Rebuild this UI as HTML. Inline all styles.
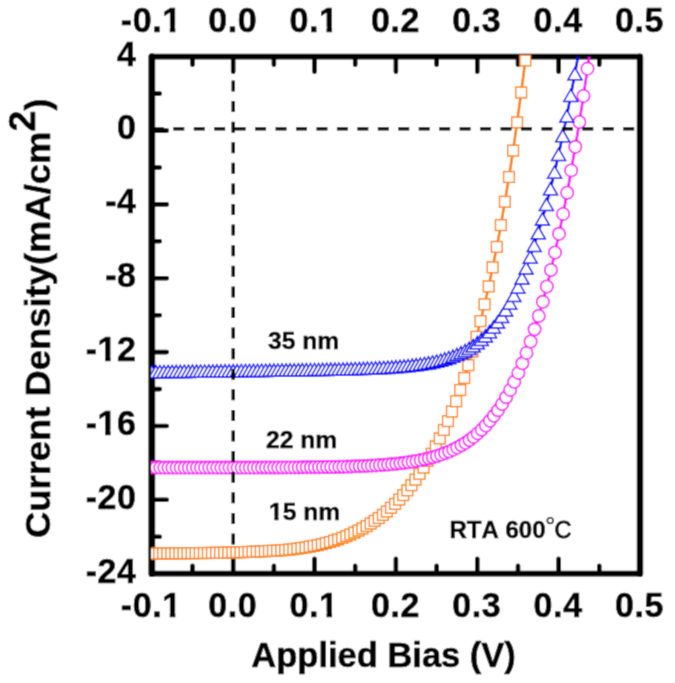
<!DOCTYPE html>
<html><head><meta charset="utf-8"><style>
html,body{margin:0;padding:0;background:#fff;width:675px;height:683px;overflow:hidden}
body{position:relative;font-family:"Liberation Sans",sans-serif}
</style></head><body>
<div style="position:absolute;left:0;top:0;width:675px;height:683px">
<svg width="675" height="683" viewBox="0 0 675 683" style="display:block">
<defs><filter id="bl" x="0" y="0" width="1" height="1"><feConvolveMatrix order="3" kernelMatrix="0.02768 0.11101 0.02768 0.11101 0.44521 0.11101 0.02768 0.11101 0.02768" edgeMode="duplicate"/></filter></defs><g filter="url(#bl)"><rect width="675" height="683" fill="#fff"/>
<defs><clipPath id="c"><rect x="151.3" y="48.7" width="488.2" height="525.0"/></clipPath><clipPath id="cl"><rect x="151.8" y="56.7" width="488.2" height="517.0"/></clipPath></defs>
<path d="M151.8 573.7v-15.0 M151.8 56.7v15.0 M192.5 573.7v-8.0 M192.5 56.7v8.0 M233.2 573.7v-15.0 M233.2 56.7v15.0 M273.9 573.7v-8.0 M273.9 56.7v8.0 M314.5 573.7v-15.0 M314.5 56.7v15.0 M355.2 573.7v-8.0 M355.2 56.7v8.0 M395.9 573.7v-15.0 M395.9 56.7v15.0 M436.6 573.7v-8.0 M436.6 56.7v8.0 M477.3 573.7v-15.0 M477.3 56.7v15.0 M518.0 573.7v-8.0 M518.0 56.7v8.0 M558.6 573.7v-15.0 M558.6 56.7v15.0 M599.3 573.7v-8.0 M599.3 56.7v8.0 M640.0 573.7v-15.0 M640.0 56.7v15.0 M151.8 56.7h15.0 M151.8 93.6h8.0 M151.8 130.6h15.0 M151.8 167.5h8.0 M151.8 204.4h15.0 M151.8 241.3h8.0 M151.8 278.3h15.0 M151.8 315.2h8.0 M151.8 352.1h15.0 M151.8 389.1h8.0 M151.8 426.0h15.0 M151.8 462.9h8.0 M151.8 499.8h15.0 M151.8 536.8h8.0 M151.8 573.7h15.0" stroke="#000" stroke-width="4.6" stroke-linecap="round" fill="none"/>
<path d="M151.8 56.7H640.0" stroke="#000" stroke-width="5.8" stroke-linecap="round"/>
<path d="M151.8 573.7H640.0" stroke="#000" stroke-width="5.8" stroke-linecap="round"/>
<path d="M151.8 56.7V573.7" stroke="#000" stroke-width="6.8" stroke-linecap="round"/>
<path d="M640.0 56.7V573.7" stroke="#000" stroke-width="6.4" stroke-linecap="round"/>
<g clip-path="url(#c)"><path d="M151.0 553.6 L155.1 553.6 L159.1 553.5 L163.2 553.5 L167.3 553.4 L171.3 553.4 L175.4 553.3 L179.5 553.3 L183.5 553.3 L187.6 553.2 L191.7 553.2 L195.7 553.1 L199.8 553.1 L203.9 553.0 L207.9 553.0 L212.0 552.9 L216.1 552.9 L220.1 552.8 L224.2 552.7 L228.3 552.6 L232.4 552.5 L236.4 552.4 L240.5 552.2 L244.6 552.1 L248.6 551.9 L252.7 551.7 L256.8 551.5 L260.8 551.4 L264.9 551.2 L269.0 551.0 L273.0 550.8 L277.1 550.6 L281.2 550.3 L285.2 550.0 L289.3 549.6 L293.4 549.2 L297.4 548.6 L301.5 548.0 L305.6 547.4 L309.7 546.7 L313.7 545.9 L317.8 545.1 L321.9 544.1 L325.9 543.1 L330.0 542.0 L334.1 540.7 L338.1 539.4 L342.2 537.8 L346.3 536.2 L350.3 534.5 L354.4 532.6 L358.5 530.6 L362.5 528.4 L366.6 526.1 L370.7 523.5 L374.7 520.9 L378.8 518.0 L382.9 514.9 L386.9 511.5 L391.0 507.8 L395.1 503.9 L399.2 499.6 L403.2 495.1 L407.3 490.3 L411.4 485.2 L415.4 479.7 L419.5 473.9 L423.6 467.6 L427.6 460.9 L431.7 453.8 L435.8 446.3 L439.8 438.4 L443.9 430.0 L448.0 421.1 L452.0 411.5 L456.1 401.2 L460.2 390.0 L464.2 378.0 L468.3 365.2 L472.4 351.5 L476.5 336.8 L480.5 321.1 L484.6 304.3 L488.7 286.4 L492.7 267.3 L496.8 246.9 L500.9 225.1 L504.9 201.8 L509.0 177.0 L513.1 150.6 L517.1 122.4 L521.2 92.5 L525.3 60.5 L529.3 26.6" stroke="#FF8000" stroke-width="2.6" fill="none" clip-path="url(#cl)"/><rect x="145.6" y="548.2" width="10.8" height="10.8" fill="#fff" stroke="#FF8000" stroke-width="1.4"/><rect x="149.7" y="548.2" width="10.8" height="10.8" fill="#fff" stroke="#FF8000" stroke-width="1.4"/><rect x="153.7" y="548.1" width="10.8" height="10.8" fill="#fff" stroke="#FF8000" stroke-width="1.4"/><rect x="157.8" y="548.1" width="10.8" height="10.8" fill="#fff" stroke="#FF8000" stroke-width="1.4"/><rect x="161.9" y="548.0" width="10.8" height="10.8" fill="#fff" stroke="#FF8000" stroke-width="1.4"/><rect x="165.9" y="548.0" width="10.8" height="10.8" fill="#fff" stroke="#FF8000" stroke-width="1.4"/><rect x="170.0" y="547.9" width="10.8" height="10.8" fill="#fff" stroke="#FF8000" stroke-width="1.4"/><rect x="174.1" y="547.9" width="10.8" height="10.8" fill="#fff" stroke="#FF8000" stroke-width="1.4"/><rect x="178.1" y="547.9" width="10.8" height="10.8" fill="#fff" stroke="#FF8000" stroke-width="1.4"/><rect x="182.2" y="547.8" width="10.8" height="10.8" fill="#fff" stroke="#FF8000" stroke-width="1.4"/><rect x="186.3" y="547.8" width="10.8" height="10.8" fill="#fff" stroke="#FF8000" stroke-width="1.4"/><rect x="190.3" y="547.7" width="10.8" height="10.8" fill="#fff" stroke="#FF8000" stroke-width="1.4"/><rect x="194.4" y="547.7" width="10.8" height="10.8" fill="#fff" stroke="#FF8000" stroke-width="1.4"/><rect x="198.5" y="547.6" width="10.8" height="10.8" fill="#fff" stroke="#FF8000" stroke-width="1.4"/><rect x="202.5" y="547.6" width="10.8" height="10.8" fill="#fff" stroke="#FF8000" stroke-width="1.4"/><rect x="206.6" y="547.5" width="10.8" height="10.8" fill="#fff" stroke="#FF8000" stroke-width="1.4"/><rect x="210.7" y="547.5" width="10.8" height="10.8" fill="#fff" stroke="#FF8000" stroke-width="1.4"/><rect x="214.7" y="547.4" width="10.8" height="10.8" fill="#fff" stroke="#FF8000" stroke-width="1.4"/><rect x="218.8" y="547.3" width="10.8" height="10.8" fill="#fff" stroke="#FF8000" stroke-width="1.4"/><rect x="222.9" y="547.2" width="10.8" height="10.8" fill="#fff" stroke="#FF8000" stroke-width="1.4"/><rect x="227.0" y="547.1" width="10.8" height="10.8" fill="#fff" stroke="#FF8000" stroke-width="1.4"/><rect x="231.0" y="547.0" width="10.8" height="10.8" fill="#fff" stroke="#FF8000" stroke-width="1.4"/><rect x="235.1" y="546.8" width="10.8" height="10.8" fill="#fff" stroke="#FF8000" stroke-width="1.4"/><rect x="239.2" y="546.7" width="10.8" height="10.8" fill="#fff" stroke="#FF8000" stroke-width="1.4"/><rect x="243.2" y="546.5" width="10.8" height="10.8" fill="#fff" stroke="#FF8000" stroke-width="1.4"/><rect x="247.3" y="546.3" width="10.8" height="10.8" fill="#fff" stroke="#FF8000" stroke-width="1.4"/><rect x="251.4" y="546.1" width="10.8" height="10.8" fill="#fff" stroke="#FF8000" stroke-width="1.4"/><rect x="255.4" y="546.0" width="10.8" height="10.8" fill="#fff" stroke="#FF8000" stroke-width="1.4"/><rect x="259.5" y="545.8" width="10.8" height="10.8" fill="#fff" stroke="#FF8000" stroke-width="1.4"/><rect x="263.6" y="545.6" width="10.8" height="10.8" fill="#fff" stroke="#FF8000" stroke-width="1.4"/><rect x="267.6" y="545.4" width="10.8" height="10.8" fill="#fff" stroke="#FF8000" stroke-width="1.4"/><rect x="271.7" y="545.2" width="10.8" height="10.8" fill="#fff" stroke="#FF8000" stroke-width="1.4"/><rect x="275.8" y="544.9" width="10.8" height="10.8" fill="#fff" stroke="#FF8000" stroke-width="1.4"/><rect x="279.8" y="544.6" width="10.8" height="10.8" fill="#fff" stroke="#FF8000" stroke-width="1.4"/><rect x="283.9" y="544.2" width="10.8" height="10.8" fill="#fff" stroke="#FF8000" stroke-width="1.4"/><rect x="288.0" y="543.8" width="10.8" height="10.8" fill="#fff" stroke="#FF8000" stroke-width="1.4"/><rect x="292.0" y="543.2" width="10.8" height="10.8" fill="#fff" stroke="#FF8000" stroke-width="1.4"/><rect x="296.1" y="542.6" width="10.8" height="10.8" fill="#fff" stroke="#FF8000" stroke-width="1.4"/><rect x="300.2" y="542.0" width="10.8" height="10.8" fill="#fff" stroke="#FF8000" stroke-width="1.4"/><rect x="304.3" y="541.3" width="10.8" height="10.8" fill="#fff" stroke="#FF8000" stroke-width="1.4"/><rect x="308.3" y="540.5" width="10.8" height="10.8" fill="#fff" stroke="#FF8000" stroke-width="1.4"/><rect x="312.4" y="539.7" width="10.8" height="10.8" fill="#fff" stroke="#FF8000" stroke-width="1.4"/><rect x="316.5" y="538.7" width="10.8" height="10.8" fill="#fff" stroke="#FF8000" stroke-width="1.4"/><rect x="320.5" y="537.7" width="10.8" height="10.8" fill="#fff" stroke="#FF8000" stroke-width="1.4"/><rect x="324.6" y="536.6" width="10.8" height="10.8" fill="#fff" stroke="#FF8000" stroke-width="1.4"/><rect x="328.7" y="535.3" width="10.8" height="10.8" fill="#fff" stroke="#FF8000" stroke-width="1.4"/><rect x="332.7" y="534.0" width="10.8" height="10.8" fill="#fff" stroke="#FF8000" stroke-width="1.4"/><rect x="336.8" y="532.4" width="10.8" height="10.8" fill="#fff" stroke="#FF8000" stroke-width="1.4"/><rect x="340.9" y="530.8" width="10.8" height="10.8" fill="#fff" stroke="#FF8000" stroke-width="1.4"/><rect x="344.9" y="529.1" width="10.8" height="10.8" fill="#fff" stroke="#FF8000" stroke-width="1.4"/><rect x="349.0" y="527.2" width="10.8" height="10.8" fill="#fff" stroke="#FF8000" stroke-width="1.4"/><rect x="353.1" y="525.2" width="10.8" height="10.8" fill="#fff" stroke="#FF8000" stroke-width="1.4"/><rect x="357.1" y="523.0" width="10.8" height="10.8" fill="#fff" stroke="#FF8000" stroke-width="1.4"/><rect x="361.2" y="520.7" width="10.8" height="10.8" fill="#fff" stroke="#FF8000" stroke-width="1.4"/><rect x="365.3" y="518.1" width="10.8" height="10.8" fill="#fff" stroke="#FF8000" stroke-width="1.4"/><rect x="369.3" y="515.5" width="10.8" height="10.8" fill="#fff" stroke="#FF8000" stroke-width="1.4"/><rect x="373.4" y="512.6" width="10.8" height="10.8" fill="#fff" stroke="#FF8000" stroke-width="1.4"/><rect x="377.5" y="509.5" width="10.8" height="10.8" fill="#fff" stroke="#FF8000" stroke-width="1.4"/><rect x="381.5" y="506.1" width="10.8" height="10.8" fill="#fff" stroke="#FF8000" stroke-width="1.4"/><rect x="385.6" y="502.4" width="10.8" height="10.8" fill="#fff" stroke="#FF8000" stroke-width="1.4"/><rect x="389.7" y="498.5" width="10.8" height="10.8" fill="#fff" stroke="#FF8000" stroke-width="1.4"/><rect x="393.8" y="494.2" width="10.8" height="10.8" fill="#fff" stroke="#FF8000" stroke-width="1.4"/><rect x="397.8" y="489.7" width="10.8" height="10.8" fill="#fff" stroke="#FF8000" stroke-width="1.4"/><rect x="401.9" y="484.9" width="10.8" height="10.8" fill="#fff" stroke="#FF8000" stroke-width="1.4"/><rect x="406.0" y="479.8" width="10.8" height="10.8" fill="#fff" stroke="#FF8000" stroke-width="1.4"/><rect x="410.0" y="474.3" width="10.8" height="10.8" fill="#fff" stroke="#FF8000" stroke-width="1.4"/><rect x="414.1" y="468.5" width="10.8" height="10.8" fill="#fff" stroke="#FF8000" stroke-width="1.4"/><rect x="418.2" y="462.2" width="10.8" height="10.8" fill="#fff" stroke="#FF8000" stroke-width="1.4"/><rect x="422.2" y="455.5" width="10.8" height="10.8" fill="#fff" stroke="#FF8000" stroke-width="1.4"/><rect x="426.3" y="448.4" width="10.8" height="10.8" fill="#fff" stroke="#FF8000" stroke-width="1.4"/><rect x="430.4" y="440.9" width="10.8" height="10.8" fill="#fff" stroke="#FF8000" stroke-width="1.4"/><rect x="434.4" y="433.0" width="10.8" height="10.8" fill="#fff" stroke="#FF8000" stroke-width="1.4"/><rect x="438.5" y="424.6" width="10.8" height="10.8" fill="#fff" stroke="#FF8000" stroke-width="1.4"/><rect x="442.6" y="415.7" width="10.8" height="10.8" fill="#fff" stroke="#FF8000" stroke-width="1.4"/><rect x="446.6" y="406.1" width="10.8" height="10.8" fill="#fff" stroke="#FF8000" stroke-width="1.4"/><rect x="450.7" y="395.8" width="10.8" height="10.8" fill="#fff" stroke="#FF8000" stroke-width="1.4"/><rect x="454.8" y="384.6" width="10.8" height="10.8" fill="#fff" stroke="#FF8000" stroke-width="1.4"/><rect x="458.8" y="372.6" width="10.8" height="10.8" fill="#fff" stroke="#FF8000" stroke-width="1.4"/><rect x="462.9" y="359.8" width="10.8" height="10.8" fill="#fff" stroke="#FF8000" stroke-width="1.4"/><rect x="467.0" y="346.1" width="10.8" height="10.8" fill="#fff" stroke="#FF8000" stroke-width="1.4"/><rect x="471.1" y="331.4" width="10.8" height="10.8" fill="#fff" stroke="#FF8000" stroke-width="1.4"/><rect x="475.1" y="315.7" width="10.8" height="10.8" fill="#fff" stroke="#FF8000" stroke-width="1.4"/><rect x="479.2" y="298.9" width="10.8" height="10.8" fill="#fff" stroke="#FF8000" stroke-width="1.4"/><rect x="483.3" y="281.0" width="10.8" height="10.8" fill="#fff" stroke="#FF8000" stroke-width="1.4"/><rect x="487.3" y="261.9" width="10.8" height="10.8" fill="#fff" stroke="#FF8000" stroke-width="1.4"/><rect x="491.4" y="241.5" width="10.8" height="10.8" fill="#fff" stroke="#FF8000" stroke-width="1.4"/><rect x="495.5" y="219.7" width="10.8" height="10.8" fill="#fff" stroke="#FF8000" stroke-width="1.4"/><rect x="499.5" y="196.4" width="10.8" height="10.8" fill="#fff" stroke="#FF8000" stroke-width="1.4"/><rect x="503.6" y="171.6" width="10.8" height="10.8" fill="#fff" stroke="#FF8000" stroke-width="1.4"/><rect x="507.7" y="145.2" width="10.8" height="10.8" fill="#fff" stroke="#FF8000" stroke-width="1.4"/><rect x="511.7" y="117.0" width="10.8" height="10.8" fill="#fff" stroke="#FF8000" stroke-width="1.4"/><rect x="515.8" y="87.1" width="10.8" height="10.8" fill="#fff" stroke="#FF8000" stroke-width="1.4"/><rect x="519.9" y="55.1" width="10.8" height="10.8" fill="#fff" stroke="#FF8000" stroke-width="1.4"/></g>
<g clip-path="url(#c)"><path d="M152.2 467.6 L156.3 467.6 L160.3 467.6 L164.4 467.6 L168.5 467.6 L172.5 467.6 L176.6 467.6 L180.7 467.6 L184.8 467.6 L188.8 467.6 L192.9 467.6 L197.0 467.6 L201.0 467.6 L205.1 467.6 L209.2 467.6 L213.2 467.6 L217.3 467.6 L221.4 467.6 L225.4 467.6 L229.5 467.6 L233.6 467.6 L237.6 467.6 L241.7 467.6 L245.8 467.6 L249.8 467.6 L253.9 467.6 L258.0 467.6 L262.1 467.5 L266.1 467.5 L270.2 467.5 L274.3 467.5 L278.3 467.5 L282.4 467.5 L286.5 467.4 L290.5 467.4 L294.6 467.4 L298.7 467.4 L302.7 467.3 L306.8 467.3 L310.9 467.3 L314.9 467.2 L319.0 467.2 L323.1 467.1 L327.1 467.0 L331.2 467.0 L335.3 466.9 L339.4 466.8 L343.4 466.7 L347.5 466.6 L351.6 466.5 L355.6 466.3 L359.7 466.2 L363.8 466.0 L367.8 465.8 L371.9 465.6 L376.0 465.4 L380.0 465.1 L384.1 464.8 L388.2 464.5 L392.2 464.1 L396.3 463.7 L400.4 463.3 L404.4 462.8 L408.5 462.2 L412.6 461.6 L416.6 460.9 L420.7 460.1 L424.8 459.2 L428.9 458.2 L432.9 457.2 L437.0 456.0 L441.1 454.6 L445.1 453.1 L449.2 451.5 L453.3 449.6 L457.3 447.6 L461.4 445.3 L465.5 442.8 L469.5 440.0 L473.6 436.9 L477.7 433.4 L481.7 429.7 L485.8 425.5 L489.9 420.8 L493.9 415.8 L498.0 410.2 L502.1 404.0 L506.2 397.2 L510.2 389.9 L514.3 381.8 L518.4 372.9 L522.4 363.3 L526.5 352.9 L530.6 341.5 L534.6 329.3 L538.7 316.0 L542.8 301.8 L546.8 286.5 L550.9 270.0 L555.0 252.5 L559.0 233.8 L563.1 213.9 L567.2 192.7 L571.2 170.4 L575.3 146.8 L579.4 122.0 L583.5 95.9 L587.5 68.6 L591.6 40.1" stroke="#FF00FF" stroke-width="2.6" fill="none" clip-path="url(#cl)"/><circle cx="152.2" cy="467.6" r="6.2" fill="#fff" stroke="#FF00FF" stroke-width="1.6"/><circle cx="156.3" cy="467.6" r="6.2" fill="#fff" stroke="#FF00FF" stroke-width="1.6"/><circle cx="160.3" cy="467.6" r="6.2" fill="#fff" stroke="#FF00FF" stroke-width="1.6"/><circle cx="164.4" cy="467.6" r="6.2" fill="#fff" stroke="#FF00FF" stroke-width="1.6"/><circle cx="168.5" cy="467.6" r="6.2" fill="#fff" stroke="#FF00FF" stroke-width="1.6"/><circle cx="172.5" cy="467.6" r="6.2" fill="#fff" stroke="#FF00FF" stroke-width="1.6"/><circle cx="176.6" cy="467.6" r="6.2" fill="#fff" stroke="#FF00FF" stroke-width="1.6"/><circle cx="180.7" cy="467.6" r="6.2" fill="#fff" stroke="#FF00FF" stroke-width="1.6"/><circle cx="184.8" cy="467.6" r="6.2" fill="#fff" stroke="#FF00FF" stroke-width="1.6"/><circle cx="188.8" cy="467.6" r="6.2" fill="#fff" stroke="#FF00FF" stroke-width="1.6"/><circle cx="192.9" cy="467.6" r="6.2" fill="#fff" stroke="#FF00FF" stroke-width="1.6"/><circle cx="197.0" cy="467.6" r="6.2" fill="#fff" stroke="#FF00FF" stroke-width="1.6"/><circle cx="201.0" cy="467.6" r="6.2" fill="#fff" stroke="#FF00FF" stroke-width="1.6"/><circle cx="205.1" cy="467.6" r="6.2" fill="#fff" stroke="#FF00FF" stroke-width="1.6"/><circle cx="209.2" cy="467.6" r="6.2" fill="#fff" stroke="#FF00FF" stroke-width="1.6"/><circle cx="213.2" cy="467.6" r="6.2" fill="#fff" stroke="#FF00FF" stroke-width="1.6"/><circle cx="217.3" cy="467.6" r="6.2" fill="#fff" stroke="#FF00FF" stroke-width="1.6"/><circle cx="221.4" cy="467.6" r="6.2" fill="#fff" stroke="#FF00FF" stroke-width="1.6"/><circle cx="225.4" cy="467.6" r="6.2" fill="#fff" stroke="#FF00FF" stroke-width="1.6"/><circle cx="229.5" cy="467.6" r="6.2" fill="#fff" stroke="#FF00FF" stroke-width="1.6"/><circle cx="233.6" cy="467.6" r="6.2" fill="#fff" stroke="#FF00FF" stroke-width="1.6"/><circle cx="237.6" cy="467.6" r="6.2" fill="#fff" stroke="#FF00FF" stroke-width="1.6"/><circle cx="241.7" cy="467.6" r="6.2" fill="#fff" stroke="#FF00FF" stroke-width="1.6"/><circle cx="245.8" cy="467.6" r="6.2" fill="#fff" stroke="#FF00FF" stroke-width="1.6"/><circle cx="249.8" cy="467.6" r="6.2" fill="#fff" stroke="#FF00FF" stroke-width="1.6"/><circle cx="253.9" cy="467.6" r="6.2" fill="#fff" stroke="#FF00FF" stroke-width="1.6"/><circle cx="258.0" cy="467.6" r="6.2" fill="#fff" stroke="#FF00FF" stroke-width="1.6"/><circle cx="262.1" cy="467.5" r="6.2" fill="#fff" stroke="#FF00FF" stroke-width="1.6"/><circle cx="266.1" cy="467.5" r="6.2" fill="#fff" stroke="#FF00FF" stroke-width="1.6"/><circle cx="270.2" cy="467.5" r="6.2" fill="#fff" stroke="#FF00FF" stroke-width="1.6"/><circle cx="274.3" cy="467.5" r="6.2" fill="#fff" stroke="#FF00FF" stroke-width="1.6"/><circle cx="278.3" cy="467.5" r="6.2" fill="#fff" stroke="#FF00FF" stroke-width="1.6"/><circle cx="282.4" cy="467.5" r="6.2" fill="#fff" stroke="#FF00FF" stroke-width="1.6"/><circle cx="286.5" cy="467.4" r="6.2" fill="#fff" stroke="#FF00FF" stroke-width="1.6"/><circle cx="290.5" cy="467.4" r="6.2" fill="#fff" stroke="#FF00FF" stroke-width="1.6"/><circle cx="294.6" cy="467.4" r="6.2" fill="#fff" stroke="#FF00FF" stroke-width="1.6"/><circle cx="298.7" cy="467.4" r="6.2" fill="#fff" stroke="#FF00FF" stroke-width="1.6"/><circle cx="302.7" cy="467.3" r="6.2" fill="#fff" stroke="#FF00FF" stroke-width="1.6"/><circle cx="306.8" cy="467.3" r="6.2" fill="#fff" stroke="#FF00FF" stroke-width="1.6"/><circle cx="310.9" cy="467.3" r="6.2" fill="#fff" stroke="#FF00FF" stroke-width="1.6"/><circle cx="314.9" cy="467.2" r="6.2" fill="#fff" stroke="#FF00FF" stroke-width="1.6"/><circle cx="319.0" cy="467.2" r="6.2" fill="#fff" stroke="#FF00FF" stroke-width="1.6"/><circle cx="323.1" cy="467.1" r="6.2" fill="#fff" stroke="#FF00FF" stroke-width="1.6"/><circle cx="327.1" cy="467.0" r="6.2" fill="#fff" stroke="#FF00FF" stroke-width="1.6"/><circle cx="331.2" cy="467.0" r="6.2" fill="#fff" stroke="#FF00FF" stroke-width="1.6"/><circle cx="335.3" cy="466.9" r="6.2" fill="#fff" stroke="#FF00FF" stroke-width="1.6"/><circle cx="339.4" cy="466.8" r="6.2" fill="#fff" stroke="#FF00FF" stroke-width="1.6"/><circle cx="343.4" cy="466.7" r="6.2" fill="#fff" stroke="#FF00FF" stroke-width="1.6"/><circle cx="347.5" cy="466.6" r="6.2" fill="#fff" stroke="#FF00FF" stroke-width="1.6"/><circle cx="351.6" cy="466.5" r="6.2" fill="#fff" stroke="#FF00FF" stroke-width="1.6"/><circle cx="355.6" cy="466.3" r="6.2" fill="#fff" stroke="#FF00FF" stroke-width="1.6"/><circle cx="359.7" cy="466.2" r="6.2" fill="#fff" stroke="#FF00FF" stroke-width="1.6"/><circle cx="363.8" cy="466.0" r="6.2" fill="#fff" stroke="#FF00FF" stroke-width="1.6"/><circle cx="367.8" cy="465.8" r="6.2" fill="#fff" stroke="#FF00FF" stroke-width="1.6"/><circle cx="371.9" cy="465.6" r="6.2" fill="#fff" stroke="#FF00FF" stroke-width="1.6"/><circle cx="376.0" cy="465.4" r="6.2" fill="#fff" stroke="#FF00FF" stroke-width="1.6"/><circle cx="380.0" cy="465.1" r="6.2" fill="#fff" stroke="#FF00FF" stroke-width="1.6"/><circle cx="384.1" cy="464.8" r="6.2" fill="#fff" stroke="#FF00FF" stroke-width="1.6"/><circle cx="388.2" cy="464.5" r="6.2" fill="#fff" stroke="#FF00FF" stroke-width="1.6"/><circle cx="392.2" cy="464.1" r="6.2" fill="#fff" stroke="#FF00FF" stroke-width="1.6"/><circle cx="396.3" cy="463.7" r="6.2" fill="#fff" stroke="#FF00FF" stroke-width="1.6"/><circle cx="400.4" cy="463.3" r="6.2" fill="#fff" stroke="#FF00FF" stroke-width="1.6"/><circle cx="404.4" cy="462.8" r="6.2" fill="#fff" stroke="#FF00FF" stroke-width="1.6"/><circle cx="408.5" cy="462.2" r="6.2" fill="#fff" stroke="#FF00FF" stroke-width="1.6"/><circle cx="412.6" cy="461.6" r="6.2" fill="#fff" stroke="#FF00FF" stroke-width="1.6"/><circle cx="416.6" cy="460.9" r="6.2" fill="#fff" stroke="#FF00FF" stroke-width="1.6"/><circle cx="420.7" cy="460.1" r="6.2" fill="#fff" stroke="#FF00FF" stroke-width="1.6"/><circle cx="424.8" cy="459.2" r="6.2" fill="#fff" stroke="#FF00FF" stroke-width="1.6"/><circle cx="428.9" cy="458.2" r="6.2" fill="#fff" stroke="#FF00FF" stroke-width="1.6"/><circle cx="432.9" cy="457.2" r="6.2" fill="#fff" stroke="#FF00FF" stroke-width="1.6"/><circle cx="437.0" cy="456.0" r="6.2" fill="#fff" stroke="#FF00FF" stroke-width="1.6"/><circle cx="441.1" cy="454.6" r="6.2" fill="#fff" stroke="#FF00FF" stroke-width="1.6"/><circle cx="445.1" cy="453.1" r="6.2" fill="#fff" stroke="#FF00FF" stroke-width="1.6"/><circle cx="449.2" cy="451.5" r="6.2" fill="#fff" stroke="#FF00FF" stroke-width="1.6"/><circle cx="453.3" cy="449.6" r="6.2" fill="#fff" stroke="#FF00FF" stroke-width="1.6"/><circle cx="457.3" cy="447.6" r="6.2" fill="#fff" stroke="#FF00FF" stroke-width="1.6"/><circle cx="461.4" cy="445.3" r="6.2" fill="#fff" stroke="#FF00FF" stroke-width="1.6"/><circle cx="465.5" cy="442.8" r="6.2" fill="#fff" stroke="#FF00FF" stroke-width="1.6"/><circle cx="469.5" cy="440.0" r="6.2" fill="#fff" stroke="#FF00FF" stroke-width="1.6"/><circle cx="473.6" cy="436.9" r="6.2" fill="#fff" stroke="#FF00FF" stroke-width="1.6"/><circle cx="477.7" cy="433.4" r="6.2" fill="#fff" stroke="#FF00FF" stroke-width="1.6"/><circle cx="481.7" cy="429.7" r="6.2" fill="#fff" stroke="#FF00FF" stroke-width="1.6"/><circle cx="485.8" cy="425.5" r="6.2" fill="#fff" stroke="#FF00FF" stroke-width="1.6"/><circle cx="489.9" cy="420.8" r="6.2" fill="#fff" stroke="#FF00FF" stroke-width="1.6"/><circle cx="493.9" cy="415.8" r="6.2" fill="#fff" stroke="#FF00FF" stroke-width="1.6"/><circle cx="498.0" cy="410.2" r="6.2" fill="#fff" stroke="#FF00FF" stroke-width="1.6"/><circle cx="502.1" cy="404.0" r="6.2" fill="#fff" stroke="#FF00FF" stroke-width="1.6"/><circle cx="506.2" cy="397.2" r="6.2" fill="#fff" stroke="#FF00FF" stroke-width="1.6"/><circle cx="510.2" cy="389.9" r="6.2" fill="#fff" stroke="#FF00FF" stroke-width="1.6"/><circle cx="514.3" cy="381.8" r="6.2" fill="#fff" stroke="#FF00FF" stroke-width="1.6"/><circle cx="518.4" cy="372.9" r="6.2" fill="#fff" stroke="#FF00FF" stroke-width="1.6"/><circle cx="522.4" cy="363.3" r="6.2" fill="#fff" stroke="#FF00FF" stroke-width="1.6"/><circle cx="526.5" cy="352.9" r="6.2" fill="#fff" stroke="#FF00FF" stroke-width="1.6"/><circle cx="530.6" cy="341.5" r="6.2" fill="#fff" stroke="#FF00FF" stroke-width="1.6"/><circle cx="534.6" cy="329.3" r="6.2" fill="#fff" stroke="#FF00FF" stroke-width="1.6"/><circle cx="538.7" cy="316.0" r="6.2" fill="#fff" stroke="#FF00FF" stroke-width="1.6"/><circle cx="542.8" cy="301.8" r="6.2" fill="#fff" stroke="#FF00FF" stroke-width="1.6"/><circle cx="546.8" cy="286.5" r="6.2" fill="#fff" stroke="#FF00FF" stroke-width="1.6"/><circle cx="550.9" cy="270.0" r="6.2" fill="#fff" stroke="#FF00FF" stroke-width="1.6"/><circle cx="555.0" cy="252.5" r="6.2" fill="#fff" stroke="#FF00FF" stroke-width="1.6"/><circle cx="559.0" cy="233.8" r="6.2" fill="#fff" stroke="#FF00FF" stroke-width="1.6"/><circle cx="563.1" cy="213.9" r="6.2" fill="#fff" stroke="#FF00FF" stroke-width="1.6"/><circle cx="567.2" cy="192.7" r="6.2" fill="#fff" stroke="#FF00FF" stroke-width="1.6"/><circle cx="571.2" cy="170.4" r="6.2" fill="#fff" stroke="#FF00FF" stroke-width="1.6"/><circle cx="575.3" cy="146.8" r="6.2" fill="#fff" stroke="#FF00FF" stroke-width="1.6"/><circle cx="579.4" cy="122.0" r="6.2" fill="#fff" stroke="#FF00FF" stroke-width="1.6"/><circle cx="583.5" cy="95.9" r="6.2" fill="#fff" stroke="#FF00FF" stroke-width="1.6"/><circle cx="587.5" cy="68.6" r="6.2" fill="#fff" stroke="#FF00FF" stroke-width="1.6"/></g>
<g clip-path="url(#c)"><path d="M151.8 371.7 L155.9 371.7 L159.9 371.6 L164.0 371.6 L168.1 371.5 L172.1 371.5 L176.2 371.4 L180.3 371.4 L184.3 371.3 L188.4 371.3 L192.5 371.2 L196.6 371.2 L200.6 371.1 L204.7 371.1 L208.8 371.0 L212.8 371.0 L216.9 370.9 L221.0 370.9 L225.0 370.8 L229.1 370.8 L233.2 370.7 L237.2 370.7 L241.3 370.6 L245.4 370.5 L249.4 370.5 L253.5 370.4 L257.6 370.4 L261.6 370.3 L265.7 370.3 L269.8 370.2 L273.9 370.2 L277.9 370.1 L282.0 370.0 L286.1 370.0 L290.1 369.9 L294.2 369.9 L298.3 369.8 L302.3 369.7 L306.4 369.7 L310.5 369.6 L314.5 369.5 L318.6 369.5 L322.7 369.4 L326.7 369.3 L330.8 369.2 L334.9 369.2 L338.9 369.1 L343.0 369.0 L347.1 368.9 L351.1 368.8 L355.2 368.6 L359.3 368.5 L363.4 368.4 L367.4 368.2 L371.5 368.1 L375.6 367.9 L379.6 367.7 L383.7 367.5 L387.8 367.3 L391.8 367.0 L395.9 366.7 L400.0 366.4 L404.0 366.0 L408.1 365.6 L412.2 365.2 L416.2 364.7 L420.3 364.1 L424.4 363.5 L428.4 362.8 L432.5 362.0 L436.6 361.1 L440.7 360.1 L444.7 358.9 L448.8 357.6 L452.9 356.2 L456.9 354.5 L461.0 352.7 L465.1 350.6 L469.1 348.3 L473.2 345.7 L477.3 342.7 L481.3 339.4 L485.4 335.8 L489.5 331.6 L493.5 327.1 L497.6 322.0 L501.7 316.3 L505.7 310.0 L509.8 303.1 L513.9 295.5 L518.0 287.1 L522.0 278.0 L526.1 268.0 L530.2 257.1 L534.2 245.4 L538.3 232.7 L542.4 219.0 L546.4 204.4 L550.5 188.7 L554.6 172.1 L558.6 154.4 L562.7 135.7 L566.8 116.0 L570.8 95.3 L574.9 73.7 L579.0 51.0" stroke="#0000FF" stroke-width="2.6" fill="none" clip-path="url(#cl)"/><path d="M151.8 365.6L158.8 377.8H144.8Z" fill="#fff" stroke="#0000FF" stroke-width="1.5" stroke-linejoin="miter"/><path d="M155.9 365.6L162.9 377.8H148.9Z" fill="#fff" stroke="#0000FF" stroke-width="1.5" stroke-linejoin="miter"/><path d="M159.9 365.5L166.9 377.7H152.9Z" fill="#fff" stroke="#0000FF" stroke-width="1.5" stroke-linejoin="miter"/><path d="M164.0 365.5L171.0 377.7H157.0Z" fill="#fff" stroke="#0000FF" stroke-width="1.5" stroke-linejoin="miter"/><path d="M168.1 365.4L175.1 377.6H161.1Z" fill="#fff" stroke="#0000FF" stroke-width="1.5" stroke-linejoin="miter"/><path d="M172.1 365.4L179.1 377.6H165.1Z" fill="#fff" stroke="#0000FF" stroke-width="1.5" stroke-linejoin="miter"/><path d="M176.2 365.3L183.2 377.5H169.2Z" fill="#fff" stroke="#0000FF" stroke-width="1.5" stroke-linejoin="miter"/><path d="M180.3 365.3L187.3 377.5H173.3Z" fill="#fff" stroke="#0000FF" stroke-width="1.5" stroke-linejoin="miter"/><path d="M184.3 365.2L191.3 377.4H177.3Z" fill="#fff" stroke="#0000FF" stroke-width="1.5" stroke-linejoin="miter"/><path d="M188.4 365.2L195.4 377.4H181.4Z" fill="#fff" stroke="#0000FF" stroke-width="1.5" stroke-linejoin="miter"/><path d="M192.5 365.1L199.5 377.3H185.5Z" fill="#fff" stroke="#0000FF" stroke-width="1.5" stroke-linejoin="miter"/><path d="M196.6 365.1L203.6 377.3H189.6Z" fill="#fff" stroke="#0000FF" stroke-width="1.5" stroke-linejoin="miter"/><path d="M200.6 365.0L207.6 377.2H193.6Z" fill="#fff" stroke="#0000FF" stroke-width="1.5" stroke-linejoin="miter"/><path d="M204.7 365.0L211.7 377.2H197.7Z" fill="#fff" stroke="#0000FF" stroke-width="1.5" stroke-linejoin="miter"/><path d="M208.8 364.9L215.8 377.1H201.8Z" fill="#fff" stroke="#0000FF" stroke-width="1.5" stroke-linejoin="miter"/><path d="M212.8 364.9L219.8 377.1H205.8Z" fill="#fff" stroke="#0000FF" stroke-width="1.5" stroke-linejoin="miter"/><path d="M216.9 364.8L223.9 377.0H209.9Z" fill="#fff" stroke="#0000FF" stroke-width="1.5" stroke-linejoin="miter"/><path d="M221.0 364.8L228.0 377.0H214.0Z" fill="#fff" stroke="#0000FF" stroke-width="1.5" stroke-linejoin="miter"/><path d="M225.0 364.7L232.0 376.9H218.0Z" fill="#fff" stroke="#0000FF" stroke-width="1.5" stroke-linejoin="miter"/><path d="M229.1 364.7L236.1 376.9H222.1Z" fill="#fff" stroke="#0000FF" stroke-width="1.5" stroke-linejoin="miter"/><path d="M233.2 364.6L240.2 376.8H226.2Z" fill="#fff" stroke="#0000FF" stroke-width="1.5" stroke-linejoin="miter"/><path d="M237.2 364.6L244.2 376.8H230.2Z" fill="#fff" stroke="#0000FF" stroke-width="1.5" stroke-linejoin="miter"/><path d="M241.3 364.5L248.3 376.7H234.3Z" fill="#fff" stroke="#0000FF" stroke-width="1.5" stroke-linejoin="miter"/><path d="M245.4 364.4L252.4 376.6H238.4Z" fill="#fff" stroke="#0000FF" stroke-width="1.5" stroke-linejoin="miter"/><path d="M249.4 364.4L256.4 376.6H242.4Z" fill="#fff" stroke="#0000FF" stroke-width="1.5" stroke-linejoin="miter"/><path d="M253.5 364.3L260.5 376.5H246.5Z" fill="#fff" stroke="#0000FF" stroke-width="1.5" stroke-linejoin="miter"/><path d="M257.6 364.3L264.6 376.5H250.6Z" fill="#fff" stroke="#0000FF" stroke-width="1.5" stroke-linejoin="miter"/><path d="M261.6 364.2L268.6 376.4H254.6Z" fill="#fff" stroke="#0000FF" stroke-width="1.5" stroke-linejoin="miter"/><path d="M265.7 364.2L272.7 376.4H258.7Z" fill="#fff" stroke="#0000FF" stroke-width="1.5" stroke-linejoin="miter"/><path d="M269.8 364.1L276.8 376.3H262.8Z" fill="#fff" stroke="#0000FF" stroke-width="1.5" stroke-linejoin="miter"/><path d="M273.9 364.1L280.9 376.3H266.9Z" fill="#fff" stroke="#0000FF" stroke-width="1.5" stroke-linejoin="miter"/><path d="M277.9 364.0L284.9 376.2H270.9Z" fill="#fff" stroke="#0000FF" stroke-width="1.5" stroke-linejoin="miter"/><path d="M282.0 363.9L289.0 376.1H275.0Z" fill="#fff" stroke="#0000FF" stroke-width="1.5" stroke-linejoin="miter"/><path d="M286.1 363.9L293.1 376.1H279.1Z" fill="#fff" stroke="#0000FF" stroke-width="1.5" stroke-linejoin="miter"/><path d="M290.1 363.8L297.1 376.0H283.1Z" fill="#fff" stroke="#0000FF" stroke-width="1.5" stroke-linejoin="miter"/><path d="M294.2 363.8L301.2 376.0H287.2Z" fill="#fff" stroke="#0000FF" stroke-width="1.5" stroke-linejoin="miter"/><path d="M298.3 363.7L305.3 375.9H291.3Z" fill="#fff" stroke="#0000FF" stroke-width="1.5" stroke-linejoin="miter"/><path d="M302.3 363.6L309.3 375.8H295.3Z" fill="#fff" stroke="#0000FF" stroke-width="1.5" stroke-linejoin="miter"/><path d="M306.4 363.6L313.4 375.8H299.4Z" fill="#fff" stroke="#0000FF" stroke-width="1.5" stroke-linejoin="miter"/><path d="M310.5 363.5L317.5 375.7H303.5Z" fill="#fff" stroke="#0000FF" stroke-width="1.5" stroke-linejoin="miter"/><path d="M314.5 363.4L321.5 375.6H307.5Z" fill="#fff" stroke="#0000FF" stroke-width="1.5" stroke-linejoin="miter"/><path d="M318.6 363.4L325.6 375.6H311.6Z" fill="#fff" stroke="#0000FF" stroke-width="1.5" stroke-linejoin="miter"/><path d="M322.7 363.3L329.7 375.5H315.7Z" fill="#fff" stroke="#0000FF" stroke-width="1.5" stroke-linejoin="miter"/><path d="M326.7 363.2L333.7 375.4H319.7Z" fill="#fff" stroke="#0000FF" stroke-width="1.5" stroke-linejoin="miter"/><path d="M330.8 363.1L337.8 375.3H323.8Z" fill="#fff" stroke="#0000FF" stroke-width="1.5" stroke-linejoin="miter"/><path d="M334.9 363.1L341.9 375.3H327.9Z" fill="#fff" stroke="#0000FF" stroke-width="1.5" stroke-linejoin="miter"/><path d="M338.9 363.0L345.9 375.2H331.9Z" fill="#fff" stroke="#0000FF" stroke-width="1.5" stroke-linejoin="miter"/><path d="M343.0 362.9L350.0 375.1H336.0Z" fill="#fff" stroke="#0000FF" stroke-width="1.5" stroke-linejoin="miter"/><path d="M347.1 362.8L354.1 375.0H340.1Z" fill="#fff" stroke="#0000FF" stroke-width="1.5" stroke-linejoin="miter"/><path d="M351.1 362.7L358.1 374.9H344.1Z" fill="#fff" stroke="#0000FF" stroke-width="1.5" stroke-linejoin="miter"/><path d="M355.2 362.5L362.2 374.7H348.2Z" fill="#fff" stroke="#0000FF" stroke-width="1.5" stroke-linejoin="miter"/><path d="M359.3 362.4L366.3 374.6H352.3Z" fill="#fff" stroke="#0000FF" stroke-width="1.5" stroke-linejoin="miter"/><path d="M363.4 362.3L370.4 374.5H356.4Z" fill="#fff" stroke="#0000FF" stroke-width="1.5" stroke-linejoin="miter"/><path d="M367.4 362.1L374.4 374.3H360.4Z" fill="#fff" stroke="#0000FF" stroke-width="1.5" stroke-linejoin="miter"/><path d="M371.5 362.0L378.5 374.2H364.5Z" fill="#fff" stroke="#0000FF" stroke-width="1.5" stroke-linejoin="miter"/><path d="M375.6 361.8L382.6 374.0H368.6Z" fill="#fff" stroke="#0000FF" stroke-width="1.5" stroke-linejoin="miter"/><path d="M379.6 361.6L386.6 373.8H372.6Z" fill="#fff" stroke="#0000FF" stroke-width="1.5" stroke-linejoin="miter"/><path d="M383.7 361.4L390.7 373.6H376.7Z" fill="#fff" stroke="#0000FF" stroke-width="1.5" stroke-linejoin="miter"/><path d="M387.8 361.2L394.8 373.4H380.8Z" fill="#fff" stroke="#0000FF" stroke-width="1.5" stroke-linejoin="miter"/><path d="M391.8 360.9L398.8 373.1H384.8Z" fill="#fff" stroke="#0000FF" stroke-width="1.5" stroke-linejoin="miter"/><path d="M395.9 360.6L402.9 372.8H388.9Z" fill="#fff" stroke="#0000FF" stroke-width="1.5" stroke-linejoin="miter"/><path d="M400.0 360.3L407.0 372.5H393.0Z" fill="#fff" stroke="#0000FF" stroke-width="1.5" stroke-linejoin="miter"/><path d="M404.0 359.9L411.0 372.1H397.0Z" fill="#fff" stroke="#0000FF" stroke-width="1.5" stroke-linejoin="miter"/><path d="M408.1 359.5L415.1 371.7H401.1Z" fill="#fff" stroke="#0000FF" stroke-width="1.5" stroke-linejoin="miter"/><path d="M412.2 359.1L419.2 371.3H405.2Z" fill="#fff" stroke="#0000FF" stroke-width="1.5" stroke-linejoin="miter"/><path d="M416.2 358.6L423.2 370.8H409.2Z" fill="#fff" stroke="#0000FF" stroke-width="1.5" stroke-linejoin="miter"/><path d="M420.3 358.0L427.3 370.2H413.3Z" fill="#fff" stroke="#0000FF" stroke-width="1.5" stroke-linejoin="miter"/><path d="M424.4 357.4L431.4 369.6H417.4Z" fill="#fff" stroke="#0000FF" stroke-width="1.5" stroke-linejoin="miter"/><path d="M428.4 356.7L435.4 368.9H421.4Z" fill="#fff" stroke="#0000FF" stroke-width="1.5" stroke-linejoin="miter"/><path d="M432.5 355.9L439.5 368.1H425.5Z" fill="#fff" stroke="#0000FF" stroke-width="1.5" stroke-linejoin="miter"/><path d="M436.6 355.0L443.6 367.2H429.6Z" fill="#fff" stroke="#0000FF" stroke-width="1.5" stroke-linejoin="miter"/><path d="M440.7 354.0L447.7 366.2H433.7Z" fill="#fff" stroke="#0000FF" stroke-width="1.5" stroke-linejoin="miter"/><path d="M444.7 352.8L451.7 365.0H437.7Z" fill="#fff" stroke="#0000FF" stroke-width="1.5" stroke-linejoin="miter"/><path d="M448.8 351.5L455.8 363.7H441.8Z" fill="#fff" stroke="#0000FF" stroke-width="1.5" stroke-linejoin="miter"/><path d="M452.9 350.1L459.9 362.3H445.9Z" fill="#fff" stroke="#0000FF" stroke-width="1.5" stroke-linejoin="miter"/><path d="M456.9 348.4L463.9 360.6H449.9Z" fill="#fff" stroke="#0000FF" stroke-width="1.5" stroke-linejoin="miter"/><path d="M461.0 346.6L468.0 358.8H454.0Z" fill="#fff" stroke="#0000FF" stroke-width="1.5" stroke-linejoin="miter"/><path d="M465.1 344.5L472.1 356.7H458.1Z" fill="#fff" stroke="#0000FF" stroke-width="1.5" stroke-linejoin="miter"/><path d="M469.1 342.2L476.1 354.4H462.1Z" fill="#fff" stroke="#0000FF" stroke-width="1.5" stroke-linejoin="miter"/><path d="M473.2 339.6L480.2 351.8H466.2Z" fill="#fff" stroke="#0000FF" stroke-width="1.5" stroke-linejoin="miter"/><path d="M477.3 336.6L484.3 348.8H470.3Z" fill="#fff" stroke="#0000FF" stroke-width="1.5" stroke-linejoin="miter"/><path d="M481.3 333.3L488.3 345.5H474.3Z" fill="#fff" stroke="#0000FF" stroke-width="1.5" stroke-linejoin="miter"/><path d="M485.4 329.7L492.4 341.9H478.4Z" fill="#fff" stroke="#0000FF" stroke-width="1.5" stroke-linejoin="miter"/><path d="M489.5 325.5L496.5 337.7H482.5Z" fill="#fff" stroke="#0000FF" stroke-width="1.5" stroke-linejoin="miter"/><path d="M493.5 321.0L500.5 333.2H486.5Z" fill="#fff" stroke="#0000FF" stroke-width="1.5" stroke-linejoin="miter"/><path d="M497.6 315.9L504.6 328.1H490.6Z" fill="#fff" stroke="#0000FF" stroke-width="1.5" stroke-linejoin="miter"/><path d="M501.7 310.2L508.7 322.4H494.7Z" fill="#fff" stroke="#0000FF" stroke-width="1.5" stroke-linejoin="miter"/><path d="M505.7 303.9L512.7 316.1H498.7Z" fill="#fff" stroke="#0000FF" stroke-width="1.5" stroke-linejoin="miter"/><path d="M509.8 297.0L516.8 309.2H502.8Z" fill="#fff" stroke="#0000FF" stroke-width="1.5" stroke-linejoin="miter"/><path d="M513.9 289.4L520.9 301.6H506.9Z" fill="#fff" stroke="#0000FF" stroke-width="1.5" stroke-linejoin="miter"/><path d="M518.0 281.0L525.0 293.2H511.0Z" fill="#fff" stroke="#0000FF" stroke-width="1.5" stroke-linejoin="miter"/><path d="M522.0 271.9L529.0 284.1H515.0Z" fill="#fff" stroke="#0000FF" stroke-width="1.5" stroke-linejoin="miter"/><path d="M526.1 261.9L533.1 274.1H519.1Z" fill="#fff" stroke="#0000FF" stroke-width="1.5" stroke-linejoin="miter"/><path d="M530.2 251.0L537.2 263.2H523.2Z" fill="#fff" stroke="#0000FF" stroke-width="1.5" stroke-linejoin="miter"/><path d="M534.2 239.3L541.2 251.5H527.2Z" fill="#fff" stroke="#0000FF" stroke-width="1.5" stroke-linejoin="miter"/><path d="M538.3 226.6L545.3 238.8H531.3Z" fill="#fff" stroke="#0000FF" stroke-width="1.5" stroke-linejoin="miter"/><path d="M542.4 212.9L549.4 225.1H535.4Z" fill="#fff" stroke="#0000FF" stroke-width="1.5" stroke-linejoin="miter"/><path d="M546.4 198.3L553.4 210.5H539.4Z" fill="#fff" stroke="#0000FF" stroke-width="1.5" stroke-linejoin="miter"/><path d="M550.5 182.6L557.5 194.8H543.5Z" fill="#fff" stroke="#0000FF" stroke-width="1.5" stroke-linejoin="miter"/><path d="M554.6 166.0L561.6 178.2H547.6Z" fill="#fff" stroke="#0000FF" stroke-width="1.5" stroke-linejoin="miter"/><path d="M558.6 148.3L565.6 160.5H551.6Z" fill="#fff" stroke="#0000FF" stroke-width="1.5" stroke-linejoin="miter"/><path d="M562.7 129.6L569.7 141.8H555.7Z" fill="#fff" stroke="#0000FF" stroke-width="1.5" stroke-linejoin="miter"/><path d="M566.8 109.9L573.8 122.1H559.8Z" fill="#fff" stroke="#0000FF" stroke-width="1.5" stroke-linejoin="miter"/><path d="M570.8 89.2L577.8 101.4H563.8Z" fill="#fff" stroke="#0000FF" stroke-width="1.5" stroke-linejoin="miter"/><path d="M574.9 67.6L581.9 79.8H567.9Z" fill="#fff" stroke="#0000FF" stroke-width="1.5" stroke-linejoin="miter"/></g>
<line x1="233.2" y1="56.7" x2="233.2" y2="546" stroke="#000" stroke-width="3.4" stroke-dasharray="11 9.59" stroke-dashoffset="17.39"/>
<line x1="151.8" y1="128.9" x2="640.0" y2="128.9" stroke="#000" stroke-width="3.4" stroke-dasharray="11 9.45" stroke-dashoffset="19.4"/>
<g transform="translate(151.00,31.60) scale(1.0000,1.0500)"><text x="-30.19" y="0" font-family="Liberation Sans, sans-serif" font-weight="bold" font-size="34" letter-spacing="0.600" style="font-kerning:none" fill="#000" stroke="#000" stroke-width="0.60" stroke-linejoin="round">-0.1</text><rect x="12.03" y="-4.87" width="6.74" height="6.27" fill="#fff"/><rect x="24.33" y="-4.87" width="6.31" height="6.27" fill="#fff"/></g>
<g transform="translate(151.00,617.00) scale(1.0000,1.0500)"><text x="-30.19" y="0" font-family="Liberation Sans, sans-serif" font-weight="bold" font-size="34" letter-spacing="0.600" style="font-kerning:none" fill="#000" stroke="#000" stroke-width="0.60" stroke-linejoin="round">-0.1</text><rect x="12.03" y="-4.87" width="6.74" height="6.27" fill="#fff"/><rect x="24.33" y="-4.87" width="6.31" height="6.27" fill="#fff"/></g>
<g transform="translate(232.37,31.60) scale(1.0000,1.0500)"><text x="-24.23" y="0" font-family="Liberation Sans, sans-serif" font-weight="bold" font-size="34" letter-spacing="0.600" style="font-kerning:none" fill="#000" stroke="#000" stroke-width="0.60" stroke-linejoin="round">0.0</text></g>
<g transform="translate(232.37,617.00) scale(1.0000,1.0500)"><text x="-24.23" y="0" font-family="Liberation Sans, sans-serif" font-weight="bold" font-size="34" letter-spacing="0.600" style="font-kerning:none" fill="#000" stroke="#000" stroke-width="0.60" stroke-linejoin="round">0.0</text></g>
<g transform="translate(313.73,31.60) scale(1.0000,1.0500)"><text x="-24.23" y="0" font-family="Liberation Sans, sans-serif" font-weight="bold" font-size="34" letter-spacing="0.600" style="font-kerning:none" fill="#000" stroke="#000" stroke-width="0.60" stroke-linejoin="round">0.1</text><rect x="6.06" y="-4.87" width="6.74" height="6.27" fill="#fff"/><rect x="18.37" y="-4.87" width="6.31" height="6.27" fill="#fff"/></g>
<g transform="translate(313.73,617.00) scale(1.0000,1.0500)"><text x="-24.23" y="0" font-family="Liberation Sans, sans-serif" font-weight="bold" font-size="34" letter-spacing="0.600" style="font-kerning:none" fill="#000" stroke="#000" stroke-width="0.60" stroke-linejoin="round">0.1</text><rect x="6.06" y="-4.87" width="6.74" height="6.27" fill="#fff"/><rect x="18.37" y="-4.87" width="6.31" height="6.27" fill="#fff"/></g>
<g transform="translate(395.10,31.60) scale(1.0000,1.0500)"><text x="-24.23" y="0" font-family="Liberation Sans, sans-serif" font-weight="bold" font-size="34" letter-spacing="0.600" style="font-kerning:none" fill="#000" stroke="#000" stroke-width="0.60" stroke-linejoin="round">0.2</text></g>
<g transform="translate(395.10,617.00) scale(1.0000,1.0500)"><text x="-24.23" y="0" font-family="Liberation Sans, sans-serif" font-weight="bold" font-size="34" letter-spacing="0.600" style="font-kerning:none" fill="#000" stroke="#000" stroke-width="0.60" stroke-linejoin="round">0.2</text></g>
<g transform="translate(476.47,31.60) scale(1.0000,1.0500)"><text x="-24.23" y="0" font-family="Liberation Sans, sans-serif" font-weight="bold" font-size="34" letter-spacing="0.600" style="font-kerning:none" fill="#000" stroke="#000" stroke-width="0.60" stroke-linejoin="round">0.3</text></g>
<g transform="translate(476.47,617.00) scale(1.0000,1.0500)"><text x="-24.23" y="0" font-family="Liberation Sans, sans-serif" font-weight="bold" font-size="34" letter-spacing="0.600" style="font-kerning:none" fill="#000" stroke="#000" stroke-width="0.60" stroke-linejoin="round">0.3</text></g>
<g transform="translate(557.83,31.60) scale(1.0000,1.0500)"><text x="-24.23" y="0" font-family="Liberation Sans, sans-serif" font-weight="bold" font-size="34" letter-spacing="0.600" style="font-kerning:none" fill="#000" stroke="#000" stroke-width="0.60" stroke-linejoin="round">0.4</text></g>
<g transform="translate(557.83,617.00) scale(1.0000,1.0500)"><text x="-24.23" y="0" font-family="Liberation Sans, sans-serif" font-weight="bold" font-size="34" letter-spacing="0.600" style="font-kerning:none" fill="#000" stroke="#000" stroke-width="0.60" stroke-linejoin="round">0.4</text></g>
<g transform="translate(639.20,31.60) scale(1.0000,1.0500)"><text x="-24.23" y="0" font-family="Liberation Sans, sans-serif" font-weight="bold" font-size="34" letter-spacing="0.600" style="font-kerning:none" fill="#000" stroke="#000" stroke-width="0.60" stroke-linejoin="round">0.5</text></g>
<g transform="translate(639.20,617.00) scale(1.0000,1.0500)"><text x="-24.23" y="0" font-family="Liberation Sans, sans-serif" font-weight="bold" font-size="34" letter-spacing="0.600" style="font-kerning:none" fill="#000" stroke="#000" stroke-width="0.60" stroke-linejoin="round">0.5</text></g>
<g transform="translate(136.00,65.50) scale(1.0000,1.0500)"><text x="-18.91" y="0" font-family="Liberation Sans, sans-serif" font-weight="bold" font-size="34" letter-spacing="0.600" style="font-kerning:none" fill="#000" stroke="#000" stroke-width="0.60" stroke-linejoin="round">4</text></g>
<g transform="translate(136.00,139.36) scale(1.0000,1.0500)"><text x="-18.91" y="0" font-family="Liberation Sans, sans-serif" font-weight="bold" font-size="34" letter-spacing="0.600" style="font-kerning:none" fill="#000" stroke="#000" stroke-width="0.60" stroke-linejoin="round">0</text></g>
<g transform="translate(136.00,213.21) scale(1.0000,1.0500)"><text x="-30.83" y="0" font-family="Liberation Sans, sans-serif" font-weight="bold" font-size="34" letter-spacing="0.600" style="font-kerning:none" fill="#000" stroke="#000" stroke-width="0.60" stroke-linejoin="round">-4</text></g>
<g transform="translate(136.00,287.07) scale(1.0000,1.0500)"><text x="-30.83" y="0" font-family="Liberation Sans, sans-serif" font-weight="bold" font-size="34" letter-spacing="0.600" style="font-kerning:none" fill="#000" stroke="#000" stroke-width="0.60" stroke-linejoin="round">-8</text></g>
<g transform="translate(136.00,360.93) scale(1.0000,1.0500)"><text x="-50.34" y="0" font-family="Liberation Sans, sans-serif" font-weight="bold" font-size="34" letter-spacing="0.600" style="font-kerning:none" fill="#000" stroke="#000" stroke-width="0.60" stroke-linejoin="round">-12</text><rect x="-37.68" y="-4.87" width="6.74" height="6.27" fill="#fff"/><rect x="-25.37" y="-4.87" width="6.31" height="6.27" fill="#fff"/></g>
<g transform="translate(136.00,434.79) scale(1.0000,1.0500)"><text x="-50.34" y="0" font-family="Liberation Sans, sans-serif" font-weight="bold" font-size="34" letter-spacing="0.600" style="font-kerning:none" fill="#000" stroke="#000" stroke-width="0.60" stroke-linejoin="round">-16</text><rect x="-37.68" y="-4.87" width="6.74" height="6.27" fill="#fff"/><rect x="-25.37" y="-4.87" width="6.31" height="6.27" fill="#fff"/></g>
<g transform="translate(136.00,508.64) scale(1.0000,1.0500)"><text x="-50.34" y="0" font-family="Liberation Sans, sans-serif" font-weight="bold" font-size="34" letter-spacing="0.600" style="font-kerning:none" fill="#000" stroke="#000" stroke-width="0.60" stroke-linejoin="round">-20</text></g>
<g transform="translate(136.00,582.50) scale(1.0000,1.0500)"><text x="-50.34" y="0" font-family="Liberation Sans, sans-serif" font-weight="bold" font-size="34" letter-spacing="0.600" style="font-kerning:none" fill="#000" stroke="#000" stroke-width="0.60" stroke-linejoin="round">-24</text></g>
<g transform="translate(383.60,666.50) scale(1.0000,1.0400)"><text x="-132.26" y="0" font-family="Liberation Sans, sans-serif" font-weight="bold" font-size="34.5" style="font-kerning:none" fill="#000" stroke="#000" stroke-width="0.60" stroke-linejoin="round">Applied Bias (V)</text></g>
<g transform="translate(50.30,537.95) rotate(-90) scale(1.0400,1.0000)"><text x="0.00" y="0" font-family="Liberation Sans, sans-serif" font-weight="bold" font-size="35" style="font-kerning:none" fill="#000" stroke="#000" stroke-width="0.60" stroke-linejoin="round">Current Density(mA/cm</text></g>
<g transform="translate(34.80,131.40) rotate(-90) scale(1.0400,1.0000)"><text x="0.00" y="0" font-family="Liberation Sans, sans-serif" font-weight="bold" font-size="36" style="font-kerning:none" fill="#000" stroke="#000" stroke-width="0.60" stroke-linejoin="round">2</text></g>
<g transform="translate(50.30,110.57) rotate(-90) scale(1.0400,1.0000)"><text x="0.00" y="0" font-family="Liberation Sans, sans-serif" font-weight="bold" font-size="35" style="font-kerning:none" fill="#000" stroke="#000" stroke-width="0.60" stroke-linejoin="round">)</text></g>
<g transform="translate(268.00,349.30) scale(1.0000,1.0000)"><text x="0.00" y="0" font-family="Liberation Sans, sans-serif" font-weight="bold" font-size="24.6" style="font-kerning:none" fill="#000" stroke="#000" stroke-width="0.50" stroke-linejoin="round">35 nm</text></g>
<g transform="translate(266.00,447.70) scale(1.0000,1.0000)"><text x="0.00" y="0" font-family="Liberation Sans, sans-serif" font-weight="bold" font-size="24.6" style="font-kerning:none" fill="#000" stroke="#000" stroke-width="0.50" stroke-linejoin="round">22 nm</text></g>
<g transform="translate(269.00,520.20) scale(1.0000,1.0000)"><text x="0.00" y="0" font-family="Liberation Sans, sans-serif" font-weight="bold" font-size="24.6" style="font-kerning:none" fill="#000" stroke="#000" stroke-width="0.50" stroke-linejoin="round">15 nm</text><rect x="0.20" y="-3.86" width="5.14" height="5.21" fill="#fff"/><rect x="9.52" y="-3.86" width="4.83" height="5.21" fill="#fff"/></g>
<g transform="translate(449.50,538.40) scale(1.0000,1.0000)"><text x="0.00" y="0" font-family="Liberation Sans, sans-serif" font-weight="bold" font-size="24" style="font-kerning:none" fill="#000" stroke="#000" stroke-width="0.50" stroke-linejoin="round">RTA 600</text></g>
<circle cx="550.2" cy="520.6" r="2.9" fill="none" stroke="#222" stroke-width="1.6"/>
<g transform="translate(554.50,538.40) scale(1.0000,1.0000)"><text x="0.00" y="0" font-family="Liberation Sans, sans-serif" font-size="23.5" style="font-kerning:none" fill="#000" stroke="#000" stroke-width="1.00" stroke-linejoin="round">C</text></g>
</g>
</svg>
</div>
</body></html>
